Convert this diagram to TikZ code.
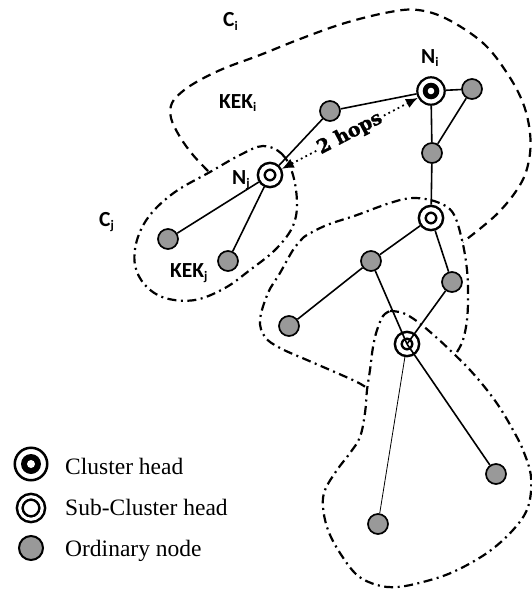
\documentclass[tikz,border=0pt]{standalone}
\usepackage{fontspec}
\setmainfont{Liberation Serif}
\newfontfamily\labfont{Carlito}
\newfontfamily\hopfont{DejaVu Serif}[BoldFeatures={FakeBold=1.6}]
\usetikzlibrary{arrows.meta}
\definecolor{nodegray}{RGB}{153,153,153}
\newcommand\lsub[1]{\raisebox{-3.5pt}{\fontsize{13}{13}\selectfont #1}}
\begin{document}
\begin{tikzpicture}[x=1pt,y=-1pt,
  ord/.style={circle,draw,line width=1.7pt,fill=nodegray,minimum size=20pt,inner sep=0pt,outer sep=0.85pt},
  sch/.style={circle,draw,line width=2.5pt,double,double distance=4.2pt,fill=white,minimum size=17.4pt,inner sep=0pt,outer sep=4.6pt},
  chead/.style={circle,draw,line width=2.2pt,fill=white,minimum size=27.4pt,inner sep=0pt,outer sep=1.1pt},
  edge/.style={line width=1.6pt},
  cidash/.style={line width=2.2pt,dash pattern=on 9pt off 6pt},
  dashdot/.style={line width=2.2pt,dash pattern=on 9pt off 4.5pt on 2pt off 4.5pt},
  lab/.style={font=\labfont\bfseries\fontsize{21.5}{22}\selectfont,inner sep=0pt,anchor=base west},
  legtext/.style={font=\fontsize{23.5}{28}\selectfont,inner sep=0pt,anchor=base west},
  hoparrow/.style={line width=1.8pt,dash pattern=on 1.8pt off 3.4pt,{Latex[length=12pt,width=10pt]}-{Latex[length=12pt,width=10pt]}}
]
\useasboundingbox (0,0) rectangle (532,589);

% cluster boundaries
\draw[cidash] plot[smooth,tension=0.6] coordinates {(208,171) (193,155) (180,137) (171,118) (172,103) (183,91) (200,80) (225,68) (260,55) (300,39) (345,23) (390,12) (418,10) (447,19) (483,43) (507,73) (523,103) (530,133) (529,160) (520,185) (497,214) (463,242)};

\draw[dashdot] plot[smooth cycle,tension=0.6] coordinates {(263,146) (282,154) (293,175) (297,205) (292,228) (275,250) (250,270) (225,288) (195,300) (165,298) (145,285) (135,265) (137,240) (150,215) (175,192) (210,172) (240,155)};

\draw[dashdot] plot[smooth,tension=0.6] coordinates {(457,352) (463,340) (467,320) (468,297) (467,270) (462,240) (453,213) (437,202) (413,198) (390,203) (357,215) (327,225) (307,235) (302,239)}
  -- plot[smooth,tension=0.6] coordinates {(302,239) (293,250) (280,273) (268,293) (260,320) (265,337) (280,348) (307,360) (337,373) (357,382) (367,388)};

\draw[dashdot] plot[smooth,tension=0.6] coordinates {(390,311) (403,313) (418,322) (437,338) (453,353) (470,370) (487,390) (500,408) (513,430) (523,450) (531,477) (528,507) (513,530) (487,553) (453,572) (423,582) (397,587) (377,585) (357,575) (340,553) (328,530) (323,507) (325,490) (337,470) (350,453) (360,437) (365,413) (367,390) (370,370) (373,347) (377,330) (383,316) (390,311)};

% nodes
\node[chead] (Ni) at (431,91) {};
\fill (Ni.center) circle (8.3pt);
\fill[white] (Ni.center) circle (3.3pt);
\node[sch] (Nj) at (270,175) {};
\node[sch] (S2) at (431,218) {};
\node[sch,fill=none] (S3) at (407,344) {};
\node[ord] (g1) at (330,111) {};
\node[ord] (g2) at (472,89) {};
\node[ord] (g3) at (432,153) {};
\node[ord] (g4) at (168,239) {};
\node[ord] (g5) at (228,261) {};
\node[ord] (g6) at (371,261) {};
\node[ord] (g7) at (452,282) {};
\node[ord] (g8) at (289,326) {};
\node[ord] (g9) at (496,474) {};
\node[ord] (g10) at (378,524) {};

% edges
\draw[edge] (g1) -- (Ni);
\draw[edge] (g1) -- (Nj);
\draw[edge] (Ni) -- (g2);
\draw[edge] (Ni) -- (g3);
\draw[edge] (g2) -- (g3);
\draw[edge] (g3) -- (S2);
\draw[edge] (Nj) -- (g4);
\draw[edge] (Nj) -- (g5);
\draw[edge] (S2) -- (g6);
\draw[edge] (S2) -- (g7);
\draw[edge] (g6) -- (g8);
\draw[edge] (g6) -- (S3.center);
\draw[edge] (g7) -- (S3.center);
\draw[edge] (S3.center) -- (g9);
\draw[line width=0.8pt] (S3) -- (g10);

% 2 hops
\draw[hoparrow] (Nj) -- node[sloped,fill=white,inner sep=1pt,font=\hopfont\bfseries\fontsize{19}{19}\selectfont] (hops) {2 hops} (Ni);

% labels
\node[lab] (lci) at (223,27) {C\lsub{i}};
\node[lab] (lkeki) at (219,108) {KEK\lsub{i}};
\node[lab] (lni) at (421,63) {N\lsub{i}};
\node[lab] (lnj) at (232,184) {N\lsub{j}};
\node[lab] (lcj) at (99,226) {C\lsub{j}};
\node[lab] (lkekj) at (170,277) {KEK\lsub{j}};

% legend
\node[chead,line width=2.5pt,minimum size=32.5pt] (legch) at (31,464) {};
\fill (legch.center) circle (10pt);
\fill[white] (legch.center) circle (4pt);
\node[sch,line width=2.5pt,double distance=3.1pt,minimum size=22.5pt] (legsch) at (31,508) {};
\node[ord,line width=2pt,minimum size=24pt] (legord) at (31,548) {};
\node[legtext] (t1) at (65,474) {Cluster head};
\node[legtext] (t2) at (65,515) {Sub-Cluster head};
\node[legtext] (t3) at (65,556) {Ordinary node};
\end{tikzpicture}
\end{document}
